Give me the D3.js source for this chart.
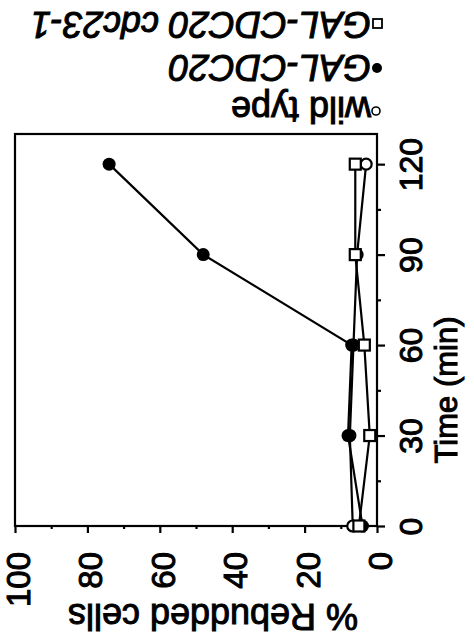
<!DOCTYPE html>
<html>
<head>
<meta charset="utf-8">
<script src="https://cdn.jsdelivr.net/npm/d3@7"></script>
<style>
  body { margin: 0; background: #fff; }
  text { font-family: "Liberation Sans", Arial, Helvetica, sans-serif; fill: #000; stroke: #000; stroke-width: 1px; }
</style>
</head>
<body>
<div id="container"></div>
<script>
// data
var times = [0, 30, 60, 90, 120];
var wildType = [6.7, 7.5, 6.5, 5.5, 3];
var galCdc20 = [4, 8, 7, 48, 74];
var galCdc20Cdc23 = [5, 2, 3.5, 6, 6];

var timeTicks = [0, 30, 60, 90, 120];
var timeMinor = [15, 45, 75, 105];
var pctTicks = [0, 20, 40, 60, 80, 100];
var pctMinor = [10, 30, 50, 70, 90];

var legendNames = ["GAL-CDC20 cdc23-1", "GAL-CDC20", "wild type"];
var legendItalic = [true, true, false];
var legendMarks = ["square", "dot", "circle"];

var W = 474, H = 638;

var svg = d3.select("#container")
  .append("svg")
    .attr("width", W)
    .attr("height", H);

svg.append("rect").attr("width", W).attr("height", H).attr("fill", "#fff");

// time runs up the right side, percent runs right-to-left along the bottom
var y = d3.scaleLinear().domain([0, 130]).range([526, 134]);
var x = d3.scaleLinear().domain([0, 100]).range([377, 15]);

// frame
svg.append("rect")
  .attr("x", x(100)).attr("y", y(130))
  .attr("width", x(0) - x(100)).attr("height", y(0) - y(130))
  .attr("fill", "none").attr("stroke", "#000").attr("stroke-width", 2.2);

// percent axis (bottom)
var pctAxis = svg.append("g")
  .attr("transform", "translate(0," + y(0) + ")")
  .call(d3.axisBottom(x).tickValues(pctTicks).tickSize(7).tickFormat(d3.format("d")));
pctAxis.select(".domain").remove();
pctAxis.selectAll("line").attr("stroke-width", 2.2);
pctAxis.selectAll("text")
  .attr("y", null).attr("dy", "0.35em")
  .attr("transform", "translate(3,26) rotate(-90)")
  .attr("text-anchor", "end")
  .style("font-size", "33px");

var pctMinorAxis = svg.append("g")
  .attr("transform", "translate(0," + y(0) + ")")
  .call(d3.axisBottom(x).tickValues(pctMinor).tickSize(3).tickFormat(""));
pctMinorAxis.select(".domain").remove();
pctMinorAxis.selectAll("line").attr("stroke-width", 2.2);

// time axis (right)
var timeAxis = svg.append("g")
  .attr("transform", "translate(" + x(0) + ",0)")
  .call(d3.axisRight(y).tickValues(timeTicks).tickSize(8).tickFormat(d3.format("d")));
timeAxis.select(".domain").remove();
timeAxis.selectAll("line").attr("stroke-width", 2.2);
timeAxis.selectAll("text")
  .attr("x", null).attr("dy", "0.35em")
  .attr("transform", "translate(34,0) rotate(-90)")
  .attr("text-anchor", "middle")
  .style("font-size", "32px");

var timeMinorAxis = svg.append("g")
  .attr("transform", "translate(" + x(0) + ",0)")
  .call(d3.axisRight(y).tickValues(timeMinor).tickSize(4).tickFormat(""));
timeMinorAxis.select(".domain").remove();
timeMinorAxis.selectAll("line").attr("stroke-width", 2.2);

// axis titles
svg.append("text")
  .attr("transform", "translate(457,390) rotate(-90)")
  .attr("text-anchor", "middle")
  .style("font-size", "31px")
  .text("Time (min)");

svg.append("text")
  .attr("transform", "translate(213,604) rotate(180)")
  .attr("text-anchor", "middle")
  .style("font-size", "36px")
  .text("% Rebudded cells");

// series
function pts(vals) {
  return times.map(function (t, i) { return {t: t, v: vals[i]}; });
}
var line = d3.line()
  .x(function (d) { return x(d.v); })
  .y(function (d) { return y(d.t); });

[wildType, galCdc20, galCdc20Cdc23].forEach(function (vals) {
  svg.append("path")
    .datum(pts(vals))
    .attr("d", line)
    .attr("fill", "none")
    .attr("stroke", "#000")
    .attr("stroke-width", 2.2);
});

svg.selectAll("circle.wt")
  .data(pts(wildType))
  .enter().append("circle")
  .attr("class", "wt")
  .attr("cx", function (d) { return x(d.v); })
  .attr("cy", function (d) { return y(d.t); })
  .attr("r", 5.5)
  .attr("fill", "#fff").attr("stroke", "#000").attr("stroke-width", 2.2);

svg.selectAll("circle.gal")
  .data(pts(galCdc20))
  .enter().append("circle")
  .attr("class", "gal")
  .attr("cx", function (d) { return x(d.v); })
  .attr("cy", function (d) { return y(d.t); })
  .attr("r", 6.5)
  .attr("fill", "#000");

svg.selectAll("rect.sq")
  .data(pts(galCdc20Cdc23))
  .enter().append("rect")
  .attr("class", "sq")
  .attr("x", function (d) { return x(d.v) - 5.5; })
  .attr("y", function (d) { return y(d.t) - 5.5; })
  .attr("width", 11).attr("height", 11)
  .attr("fill", "#fff").attr("stroke", "#000").attr("stroke-width", 2.2);

// legend, printed upside down
var legendBase = [12, 55, 97];
legendNames.forEach(function (name, i) {
  var g = svg.append("g")
    .attr("transform", "translate(384," + legendBase[i] + ") rotate(180)");
  if (legendMarks[i] === "square") {
    g.append("rect").attr("x", 2).attr("y", -16).attr("width", 9).attr("height", 9)
      .attr("fill", "#fff").attr("stroke", "#000").attr("stroke-width", 1.8);
  } else if (legendMarks[i] === "dot") {
    g.append("circle").attr("cx", 7).attr("cy", -13).attr("r", 5).attr("fill", "#000");
  } else {
    g.append("circle").attr("cx", 8).attr("cy", -14).attr("r", 4)
      .attr("fill", "#fff").attr("stroke", "#000").attr("stroke-width", 1.6);
  }
  g.append("text")
    .attr("x", 13)
    .style("font-size", "36px")
    .style("font-style", legendItalic[i] ? "italic" : "normal")
    .text(name);
});
</script>
</body>
</html>
